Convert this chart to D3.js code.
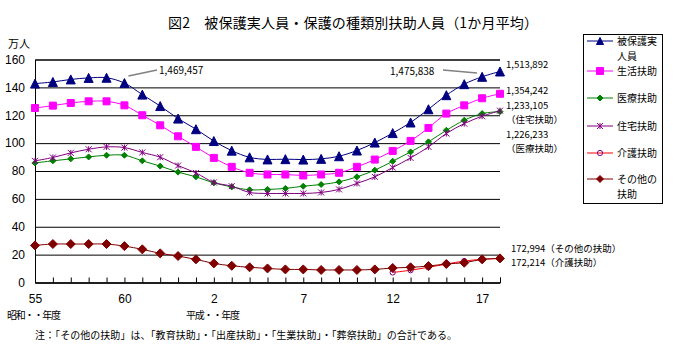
<!DOCTYPE html>
<html>
<head>
<meta charset="utf-8">
<script src="https://cdn.jsdelivr.net/npm/d3@7"></script>
<style>
body { margin: 0; background: #fff; }
svg { display: block; font-family: "Noto Sans CJK JP", "Noto Sans", sans-serif; }
</style>
</head>
<body>
<svg id="chart" width="685" height="358"></svg>
<script>
// 年度（昭和55〜平成18）
var years = [1980, 1981, 1982, 1983, 1984, 1985, 1986, 1987, 1988, 1989,
  1990, 1991, 1992, 1993, 1994, 1995, 1996, 1997, 1998, 1999,
  2000, 2001, 2002, 2003, 2004, 2005, 2006];
var tickLabels = {1980: "55", 1985: "60", 1990: "2", 1995: "7", 2000: "12", 2005: "17"};

// 万人
var total   = [142.7, 143.9, 145.7, 146.8, 146.9, 143.1, 134.8, 126.6, 117.6, 110.0,
  101.5, 94.6, 89.8, 88.3, 88.5, 88.2, 88.7, 90.6, 94.7, 100.4,
  107.2, 114.8, 124.3, 134.4, 142.3, 147.6, 151.4];
var living  = [125.2, 126.9, 128.8, 130.0, 130.0, 127.1, 120.0, 112.8, 104.9, 97.3,
  89.4, 83.0, 78.7, 77.5, 77.5, 76.8, 77.5, 78.7, 83.0, 88.2,
  94.4, 101.6, 110.9, 121.2, 127.1, 132.2, 135.4];
var medical = [85.8, 87.3, 88.7, 90.1, 91.3, 91.3, 87.3, 83.5, 79.2, 75.8,
  71.5, 68.6, 66.5, 66.8, 67.5, 69.1, 70.3, 72.2, 75.8, 80.6,
  87.0, 93.7, 100.9, 109.2, 116.4, 121.2, 122.6];
var housing = [87.3, 89.7, 93.0, 95.6, 97.3, 96.8, 93.3, 89.9, 83.9, 78.6,
  71.8, 69.1, 64.6, 63.9, 63.9, 63.9, 64.6, 66.8, 71.1, 75.8,
  82.5, 89.4, 97.3, 106.9, 114.0, 119.3, 123.3];
var care    = [null, null, null, null, null, null, null, null, null, null,
  null, null, null, null, null, null, null, null, null, null,
  7.2, 8.8, 10.9, 13.2, 15.4, 16.6, 17.2];
var other   = [26.6, 27.6, 27.6, 27.6, 27.6, 26.1, 23.8, 20.9, 19.0, 16.6,
  13.7, 12.0, 10.9, 10.1, 9.4, 9.4, 9.0, 9.0, 9.0, 9.4,
  10.4, 10.9, 11.8, 13.3, 14.2, 16.6, 17.3];

var yTicks = [0, 20, 40, 60, 80, 100, 120, 140, 160];

var series = [
  {name: ["被保護実", "人員"], values: total, line: "#000080", marker: "triangle", fill: "#000080", stroke: "#000080", size: 9},
  {name: ["生活扶助"], values: living, line: "#ff00ff", marker: "square", fill: "#ff00ff", stroke: "#ff00ff", size: 7},
  {name: ["医療扶助"], values: medical, line: "#008000", marker: "diamond", fill: "#008000", stroke: "#008000", size: 6},
  {name: ["住宅扶助"], values: housing, line: "#800080", marker: "x", fill: "none", stroke: "#800080", size: 6},
  {name: ["介護扶助"], values: care, line: "#ff0000", marker: "circle", fill: "none", stroke: "#800080", size: 6},
  {name: ["その他の", "扶助"], values: other, line: "#800000", marker: "diamond", fill: "#800000", stroke: "#800000", size: 9}
];

var svg = d3.select("#chart");

var x = d3.scalePoint().domain(years).range([35, 500]);
var y = d3.scaleLinear().domain([0, 160]).range([282.5, 59.5]);

// title
svg.append("text")
  .attr("x", 168).attr("y", 28)
  .attr("textLength", 370).attr("lengthAdjust", "spacing")
  .style("font-size", "14px")
  .text("図2　被保護実人員・保護の種類別扶助人員（1か月平均）");

svg.append("text").attr("x", 8).attr("y", 48).style("font-size", "11px").text("万人");

// y axis + grid
var yAxis = svg.append("g")
  .attr("transform", "translate(35,0)")
  .call(d3.axisLeft(y).tickValues(yTicks).tickSize(-465).tickPadding(10).tickFormat(d3.format("d")));
yAxis.selectAll(".tick line").attr("stroke", "#000");
yAxis.select(".domain").attr("stroke", "#000");
yAxis.selectAll("text").style("font-size", "12px").attr("fill", "#000");

// x axis
var xAxis = svg.append("g")
  .attr("transform", "translate(0," + y(0) + ")")
  .call(d3.axisBottom(x).tickValues(years).tickSize(-5).tickPadding(12)
    .tickFormat(function(d) { return tickLabels[d] || ""; }));
xAxis.select(".domain").attr("stroke", "#000");
xAxis.selectAll(".tick line").attr("stroke", "#000");
xAxis.selectAll("text").style("font-size", "12px").attr("fill", "#000");

svg.append("text").attr("x", 7).attr("y", 319).attr("textLength", 54)
  .style("font-size", "10px").text("昭和・・年度");
svg.append("text").attr("x", 186).attr("y", 319).attr("textLength", 54)
  .style("font-size", "10px").text("平成・・年度");
svg.append("text").attr("x", 35).attr("y", 339).attr("textLength", 422)
  .style("font-size", "10px")
  .text("注：「その他の扶助」は、「教育扶助」・「出産扶助」・「生業扶助」・「葬祭扶助」の合計である。");

function markerPath(type, s) {
  var h = s / 2;
  if (type === "triangle") return "M0," + (-h) + "L" + h + "," + h + "L" + (-h) + "," + h + "Z";
  if (type === "square") return "M" + (-h) + "," + (-h) + "h" + s + "v" + s + "h" + (-s) + "Z";
  if (type === "diamond") return "M0," + (-h) + "L" + h + ",0L0," + h + "L" + (-h) + ",0Z";
  if (type === "x") return "M" + (-h) + "," + (-h) + "L" + h + "," + h + "M" + h + "," + (-h) + "L" + (-h) + "," + h + "M0," + (-h) + "V" + h;
  return d3.symbol(d3.symbolCircle, s * s * 0.6)();
}

var line = d3.line()
  .defined(function(d) { return d[1] != null; })
  .x(function(d) { return x(d[0]); })
  .y(function(d) { return y(d[1]); })
  .curve(d3.curveCatmullRom.alpha(0.5));

series.forEach(function(s) {
  var pts = years.map(function(yr, i) { return [yr, s.values[i]]; });
  svg.append("path")
    .datum(pts)
    .attr("fill", "none")
    .attr("stroke", s.line)
    .attr("stroke-width", 1)
    .attr("d", line);
  svg.selectAll(null)
    .data(pts.filter(function(d) { return d[1] != null; }))
    .enter().append("path")
    .attr("transform", function(d) { return "translate(" + x(d[0]) + "," + y(d[1]) + ")"; })
    .attr("d", markerPath(s.marker, s.size))
    .attr("fill", s.fill)
    .attr("stroke", s.stroke)
    .attr("stroke-width", 1);
});

// annotations
svg.append("line").attr("x1", x(1985) + 4).attr("y1", 76).attr("x2", 157).attr("y2", 70)
  .attr("stroke", "#808080").attr("stroke-width", 1.5);
svg.append("text").attr("x", 159).attr("y", 74).style("font-size", "10px").text("1,469,457");
svg.append("line").attr("x1", 443).attr("y1", 70).attr("x2", 477).attr("y2", 73)
  .attr("stroke", "#808080").attr("stroke-width", 1.5);
svg.append("text").attr("x", 390).attr("y", 75).style("font-size", "10px").text("1,475,838");

var endLabels = [
  ["1,513,892", 68], ["1,354,242", 94], ["1,233,105", 109], ["（住宅扶助）", 123],
  ["1,226,233", 138], ["（医療扶助）", 152],
  ["172,994（その他の扶助）", 252], ["172,214（介護扶助）", 266]
];
svg.selectAll(null).data(endLabels).enter().append("text")
  .attr("x", function(d, i) { return i >= 6 ? 511 : 506; })
  .attr("y", function(d) { return d[1]; })
  .style("font-size", "9.5px")
  .text(function(d) { return d[0]; });

// legend
var lg = svg.append("g");
lg.append("rect").attr("x", 583.5).attr("y", 34.5).attr("width", 79).attr("height", 169)
  .attr("fill", "#fff").attr("stroke", "#000");
var rowY = [41, 71, 98, 126, 153, 179];
series.forEach(function(s, i) {
  var ry = rowY[i];
  lg.append("line").attr("x1", 587).attr("x2", 613).attr("y1", ry).attr("y2", ry)
    .attr("stroke", s.line);
  lg.append("path").attr("transform", "translate(600," + ry + ")")
    .attr("d", markerPath(s.marker, Math.min(s.size, 7)))
    .attr("fill", s.fill).attr("stroke", s.stroke);
  s.name.forEach(function(t, j) {
    lg.append("text").attr("x", 617).attr("y", ry + 4 + j * 15)
      .style("font-size", "10px").text(t);
  });
});
</script>
</body>
</html>
